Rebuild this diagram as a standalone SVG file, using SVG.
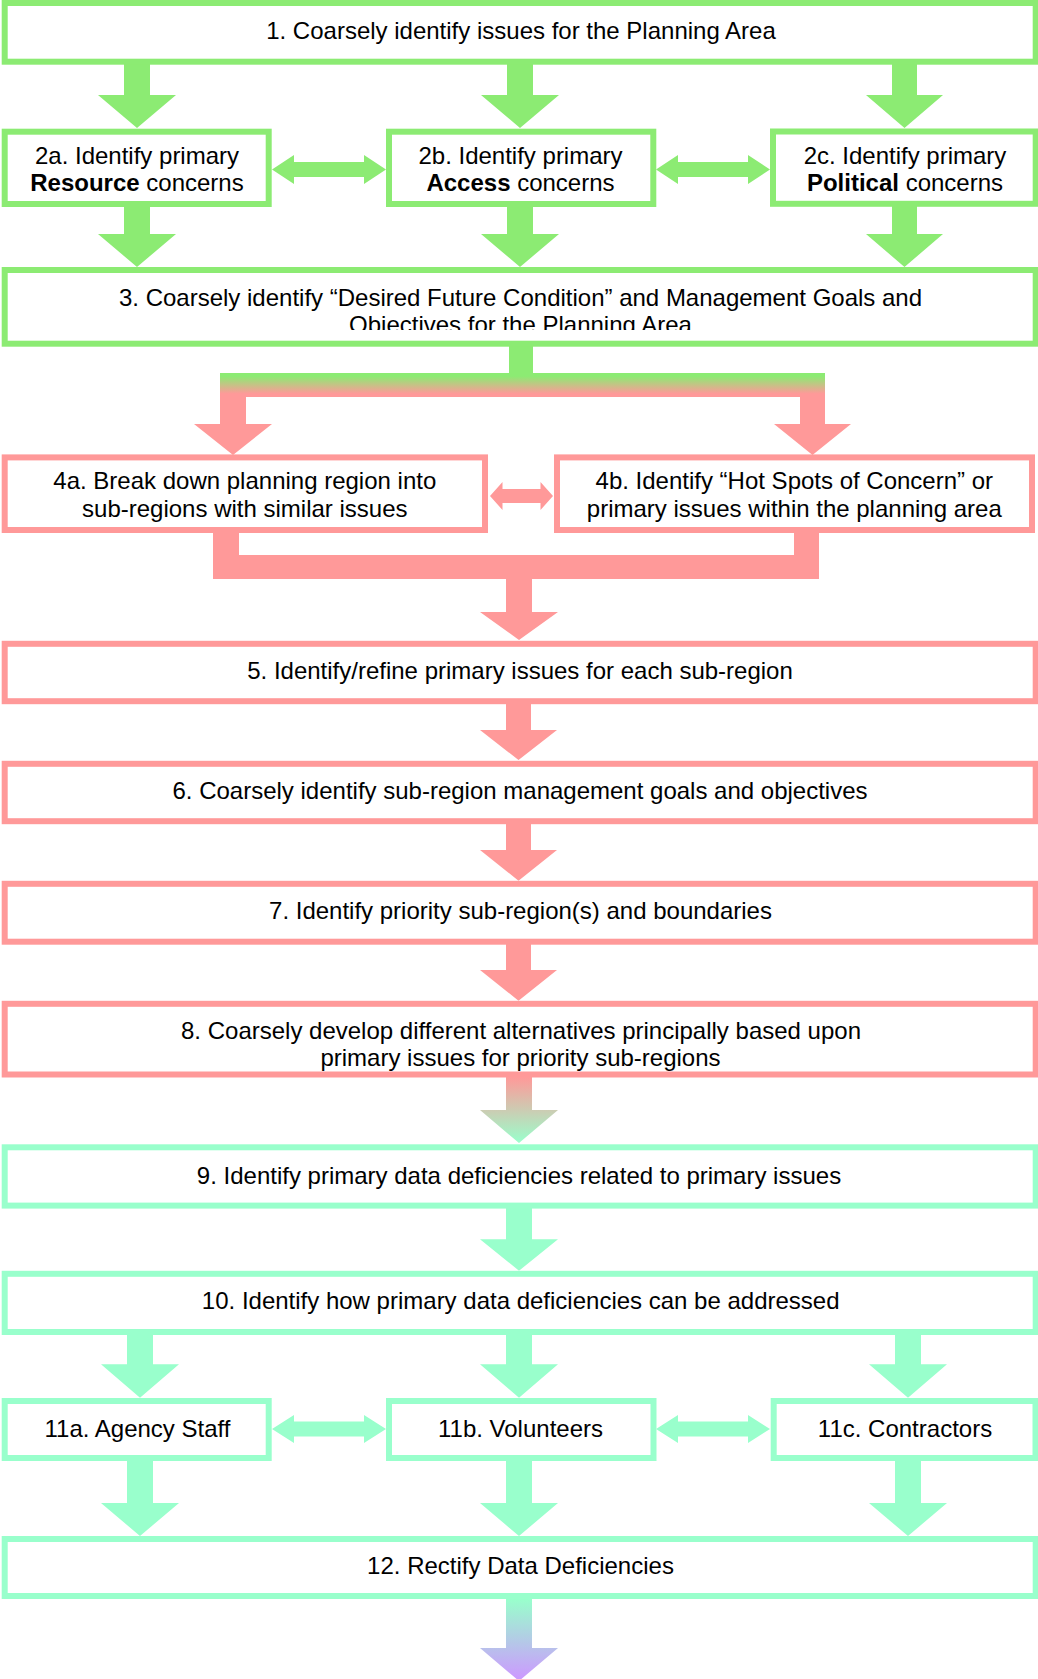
<svg xmlns="http://www.w3.org/2000/svg" width="1038" height="1679" viewBox="0 0 1038 1679">
<style>
.box{fill:#fff;stroke-width:6}
.g{stroke:#8CEB73}
.p{stroke:#FF9999}
.m{stroke:#99FFCC}
.fg{fill:#8CEB73}
.fp{fill:#FF9999}
.fm{fill:#99FFCC}
text{font-family:"Liberation Sans",Arial,sans-serif;font-size:24px;fill:#000;text-anchor:middle}
.b{font-weight:bold}
</style>
<defs>
<linearGradient id="gp" gradientUnits="userSpaceOnUse" x1="0" y1="374" x2="0" y2="396">
<stop offset="0.1" stop-color="#8CEB73"/>
<stop offset="0.9" stop-color="#FF9999"/>
</linearGradient>
<linearGradient id="pm" gradientUnits="userSpaceOnUse" x1="0" y1="1077" x2="0" y2="1143">
<stop offset="0" stop-color="#FF9999"/>
<stop offset="1" stop-color="#99FFCC"/>
</linearGradient>
<linearGradient id="mv" gradientUnits="userSpaceOnUse" x1="0" y1="1599" x2="0" y2="1679">
<stop offset="0" stop-color="#99FFCC"/>
<stop offset="1" stop-color="#CC99FF"/>
</linearGradient>
<clipPath id="c3"><rect x="0" y="270" width="1038" height="60"/></clipPath>
</defs>

<g id="connectors">
<!-- 1 -> 2a/2b/2c -->
<polygon class="fg" points="124,62 150,62 150,95 176,95 137,128 98,95 124,95"/>
<polygon class="fg" points="507,62 533,62 533,95 559,95 520,128 481,95 507,95"/>
<polygon class="fg" points="892,62 917,62 917,95 943,95 904.5,128 866,95 892,95"/>
<!-- 2 <-> 2 -->
<polygon class="fg" points="272,169.5 294,155 294,162 364,162 364,155 386,169.5 364,184 364,177 294,177 294,184"/>
<polygon class="fg" points="656,169.5 678,155 678,162 748,162 748,155 770,169.5 748,184 748,177 678,177 678,184"/>
<!-- 2 -> 3 -->
<polygon class="fg" points="124,204 150,204 150,234 176,234 137,267 98,234 124,234"/>
<polygon class="fg" points="507,204 533,204 533,234 559,234 520,267 481,234 507,234"/>
<polygon class="fg" points="892,204 917,204 917,234 943,234 904.5,267 866,234 892,234"/>
<!-- 3 -> 4a/4b -->
<path fill="url(#gp)" d="M509,343 L533,343 L533,373 L825,373 L825,424 L851,424 L812.5,455 L774,424 L800,424 L800,397 L246,397 L246,424 L272,424 L233,455 L194,424 L220,424 L220,373 L509,373 Z"/>
<!-- 4a <-> 4b -->
<polygon class="fp" points="490,496 502.5,482 502.5,489 540.5,489 540.5,482 553,496 540.5,510 540.5,503 502.5,503 502.5,510"/>
<!-- 4a/4b -> 5 -->
<path class="fp" d="M213,530 L239,530 L239,555 L794,555 L794,530 L819,530 L819,579 L532,579 L532,612 L558,612 L519,640 L480,612 L506,612 L506,579 L213,579 Z"/>
<!-- 5 -> 6 -> 7 -> 8 -->
<polygon class="fp" points="506,701 531,701 531,730 557,730 518.5,760 480,730 506,730"/>
<polygon class="fp" points="506,821 531,821 531,850 557,850 518.5,880.7 480,850 506,850"/>
<polygon class="fp" points="506,941 531,941 531,970 557,970 518.5,1000.7 480,970 506,970"/>
<!-- 8 -> 9 -->
<polygon fill="url(#pm)" points="506,1077 532,1077 532,1110 558,1110 519,1143 480,1110 506,1110"/>
<!-- 9 -> 10 -->
<polygon class="fm" points="506,1205 532,1205 532,1239.3 558,1239.3 519,1270.7 480,1239.3 506,1239.3"/>
<!-- 10 -> 11 -->
<polygon class="fm" points="127,1332 153,1332 153,1364.3 179,1364.3 140,1397.7 101,1364.3 127,1364.3"/>
<polygon class="fm" points="506,1332 532,1332 532,1364.3 558,1364.3 519,1397.7 480,1364.3 506,1364.3"/>
<polygon class="fm" points="895,1332 921,1332 921,1364.3 947,1364.3 908,1397.7 869,1364.3 895,1364.3"/>
<!-- 11 <-> 11 -->
<polygon class="fm" points="272,1429 294,1415 294,1421.5 364,1421.5 364,1415 386,1429 364,1443 364,1436.5 294,1436.5 294,1443"/>
<polygon class="fm" points="656,1429 678,1415 678,1421.5 748,1421.5 748,1415 770,1429 748,1443 748,1436.5 678,1436.5 678,1443"/>
<!-- 11 -> 12 -->
<polygon class="fm" points="127,1458 153,1458 153,1503 179,1503 140,1536 101,1503 127,1503"/>
<polygon class="fm" points="506,1458 532,1458 532,1503 558,1503 519,1536 480,1503 506,1503"/>
<polygon class="fm" points="895,1458 921,1458 921,1503 947,1503 908,1536 869,1503 895,1503"/>
<!-- 12 -> out -->
<polygon fill="url(#mv)" points="506,1596 532,1596 532,1648 558,1648 519,1681 480,1648 506,1648"/>
</g>

<g id="n1"><rect class="box g" x="4.7" y="3" width="1031" height="58.7"/>
<text x="521" y="39">1. Coarsely identify issues for the Planning Area</text></g>

<g id="n2a"><rect class="box g" x="4.7" y="131.7" width="264" height="72.3"/>
<text x="137" y="164">2a. Identify primary</text>
<text x="137" y="191"><tspan class="b">Resource</tspan> concerns</text></g>

<g id="n2b"><rect class="box g" x="389" y="131.7" width="264.3" height="72.3"/>
<text x="520.5" y="164">2b. Identify primary</text>
<text x="520.5" y="191"><tspan class="b">Access</tspan> concerns</text></g>

<g id="n2c"><rect class="box g" x="773" y="131.5" width="262.7" height="72.3"/>
<text x="905" y="164">2c. Identify primary</text>
<text x="905" y="191"><tspan class="b">Political</tspan> concerns</text></g>

<g id="n3"><rect class="box g" x="4.7" y="270" width="1031" height="73.7"/>
<g clip-path="url(#c3)">
<text x="520.5" y="306">3. Coarsely identify “Desired Future Condition” and Management Goals and</text>
<text x="520.5" y="333">Objectives for the Planning Area</text>
</g></g>

<g id="n4a"><rect class="box p" x="4.7" y="457.4" width="480.3" height="72.6"/>
<text x="244.8" y="489.3">4a. Break down planning region into</text>
<text x="244.8" y="516.7">sub-regions with similar issues</text></g>

<g id="n4b"><rect class="box p" x="557" y="457.4" width="475" height="72.6"/>
<text x="794.3" y="489.3">4b. Identify “Hot Spots of Concern” or</text>
<text x="794.3" y="516.7">primary issues within the planning area</text></g>

<g id="n5"><rect class="box p" x="4.7" y="643.8" width="1031" height="57.4"/>
<text x="520" y="679.3">5. Identify/refine primary issues for each sub-region</text></g>

<g id="n6"><rect class="box p" x="4.7" y="763.8" width="1031" height="57.4"/>
<text x="520" y="799.3">6. Coarsely identify sub-region management goals and objectives</text></g>

<g id="n7"><rect class="box p" x="4.7" y="883.8" width="1031" height="57.9"/>
<text x="520.5" y="919.3">7. Identify priority sub-region(s) and boundaries</text></g>

<g id="n8"><rect class="box p" x="4.7" y="1003.8" width="1031" height="70.7"/>
<text x="521" y="1039.3">8. Coarsely develop different alternatives principally based upon</text>
<text x="520.5" y="1066">primary issues for priority sub-regions</text></g>

<g id="n9"><rect class="box m" x="4.7" y="1147.3" width="1031" height="58.3"/>
<text x="519" y="1184.3">9. Identify primary data deficiencies related to primary issues</text></g>

<g id="n10"><rect class="box m" x="4.7" y="1273.8" width="1031" height="58.2"/>
<text x="520.7" y="1309.3">10. Identify how primary data deficiencies can be addressed</text></g>

<g id="n11a"><rect class="box m" x="4.7" y="1401" width="264" height="57"/>
<text x="137.5" y="1437">11a. Agency Staff</text></g>

<g id="n11b"><rect class="box m" x="389" y="1401" width="264.5" height="57"/>
<text x="520.5" y="1437">11b. Volunteers</text></g>

<g id="n11c"><rect class="box m" x="773.7" y="1401" width="261.8" height="57"/>
<text x="905" y="1437">11c. Contractors</text></g>

<g id="n12"><rect class="box m" x="4.7" y="1539" width="1031" height="57"/>
<text x="520.5" y="1574.3">12. Rectify Data Deficiencies</text></g>
</svg>
